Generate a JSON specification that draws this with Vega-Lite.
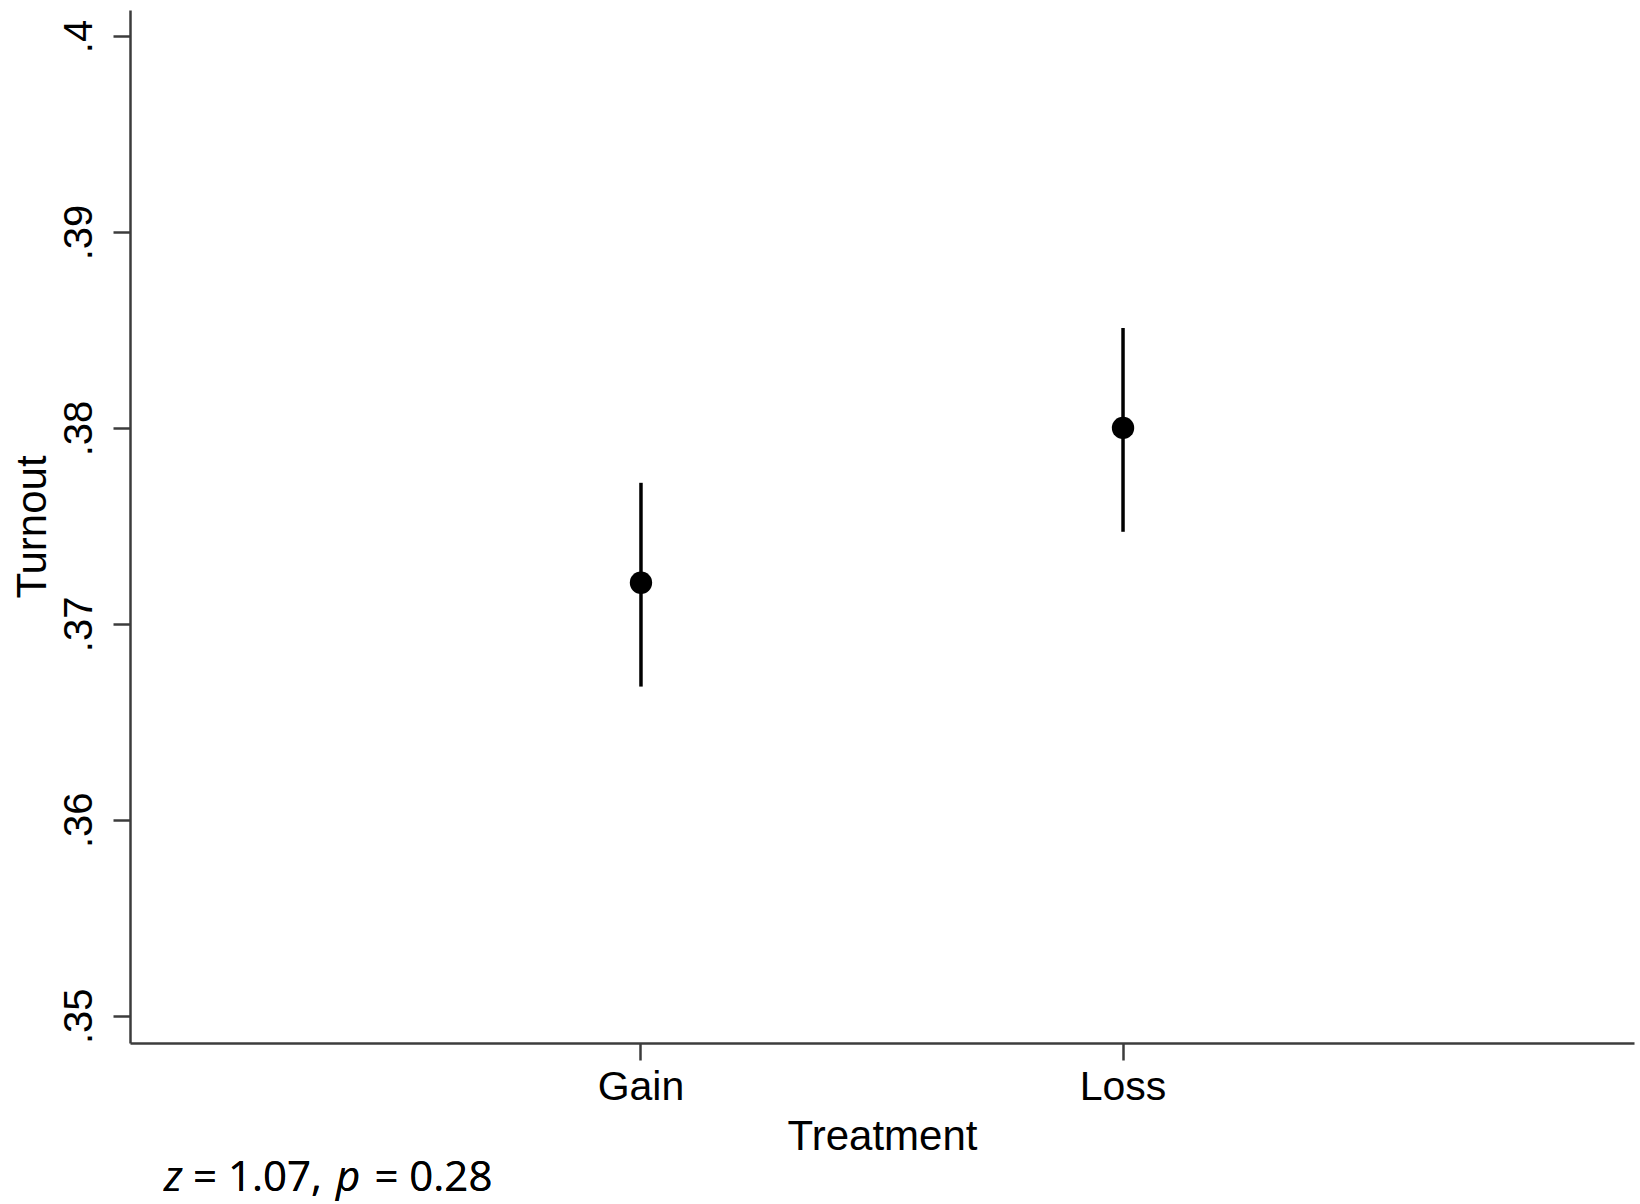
{
  "$schema": "https://vega.github.io/schema/vega-lite/v6.json",
  "autosize": {"type": "none"},
  "padding": {"left": 130, "top": 10, "right": 6, "bottom": 161},
  "width": 1504,
  "height": 1033,
  "background": "white",
  "config": {
    "view": {"stroke": null},
    "axis": {
      "domainColor": "#3c3c3c",
      "domainWidth": 2.5,
      "tickColor": "#3c3c3c",
      "tickWidth": 2.5,
      "tickSize": 17,
      "grid": false,
      "labelFont": "Liberation Sans",
      "titleFont": "Liberation Sans",
      "labelColor": "black",
      "titleColor": "black",
      "titleFontWeight": "normal"
    }
  },
  "data": {
    "values": [
      {"treatment": "Gain", "turnout": 0.3721, "lo": 0.3668, "hi": 0.3772},
      {"treatment": "Loss", "turnout": 0.38, "lo": 0.3747, "hi": 0.3851}
    ]
  },
  "layer": [
    {
      "mark": {"type": "rule", "color": "black", "strokeWidth": 3.5},
      "encoding": {
        "x": {"field": "treatment", "type": "nominal", "scale": {"type": "band", "paddingInner": 0.5, "paddingOuter": 0.81}, "axis": null},
        "y": {"field": "lo", "type": "quantitative", "scale": {"domain": [0.34861, 0.40133], "nice": false, "zero": false}, "axis": null},
        "y2": {"field": "hi"}
      }
    },
    {
      "mark": {"type": "circle", "color": "black", "opacity": 1, "size": 500},
      "encoding": {
        "x": {
          "field": "treatment", "type": "nominal",
          "scale": {"type": "band", "paddingInner": 0.5, "paddingOuter": 0.81},
          "axis": {"title": "Treatment", "labelAngle": 0, "labelFontSize": 41, "titleFontSize": 42, "labelPadding": 7, "titlePadding": 9}
        },
        "y": {
          "field": "turnout", "type": "quantitative",
          "scale": {"domain": [0.34861, 0.40133], "nice": false, "zero": false},
          "axis": {
            "title": "Turnout",
            "values": [0.35, 0.36, 0.37, 0.38, 0.39, 0.4],
            "labelExpr": "substring(format(datum.value, '.2~f'), 1)",
            "labelAngle": -90,
            "labelFontSize": 40,
            "titleFontSize": 42,
            "labelPadding": 14,
            "titlePadding": 5
          }
        }
      }
    },
    {
      "mark": {"type": "text", "text": "z", "fontStyle": "italic", "font": "Open Sans", "fontSize": 42, "align": "left", "baseline": "alphabetic", "color": "black"},
      "encoding": {
        "x": {"datum": 0.0226, "type": "quantitative", "scale": {"domain": [0, 1]}, "axis": null},
        "y": {"datum": -0.1433, "type": "quantitative", "scale": {"domain": [0, 1]}, "axis": null}
      }
    },
    {
      "mark": {"type": "text", "text": "= 1.07,", "font": "Open Sans", "fontSize": 42, "align": "left", "baseline": "alphabetic", "color": "black"},
      "encoding": {
        "x": {"datum": 0.04189, "type": "quantitative", "scale": {"domain": [0, 1]}, "axis": null},
        "y": {"datum": -0.1433, "type": "quantitative", "scale": {"domain": [0, 1]}, "axis": null}
      }
    },
    {
      "mark": {"type": "text", "text": "p", "fontStyle": "italic", "font": "Open Sans", "fontSize": 42, "align": "left", "baseline": "alphabetic", "color": "black"},
      "encoding": {
        "x": {"datum": 0.1370, "type": "quantitative", "scale": {"domain": [0, 1]}, "axis": null},
        "y": {"datum": -0.1433, "type": "quantitative", "scale": {"domain": [0, 1]}, "axis": null}
      }
    },
    {
      "mark": {"type": "text", "text": "= 0.28", "font": "Open Sans", "fontSize": 42, "align": "left", "baseline": "alphabetic", "color": "black"},
      "encoding": {
        "x": {"datum": 0.1625, "type": "quantitative", "scale": {"domain": [0, 1]}, "axis": null},
        "y": {"datum": -0.1433, "type": "quantitative", "scale": {"domain": [0, 1]}, "axis": null}
      }
    }
  ],
  "resolve": {"scale": {"x": "independent", "y": "independent"}}
}
